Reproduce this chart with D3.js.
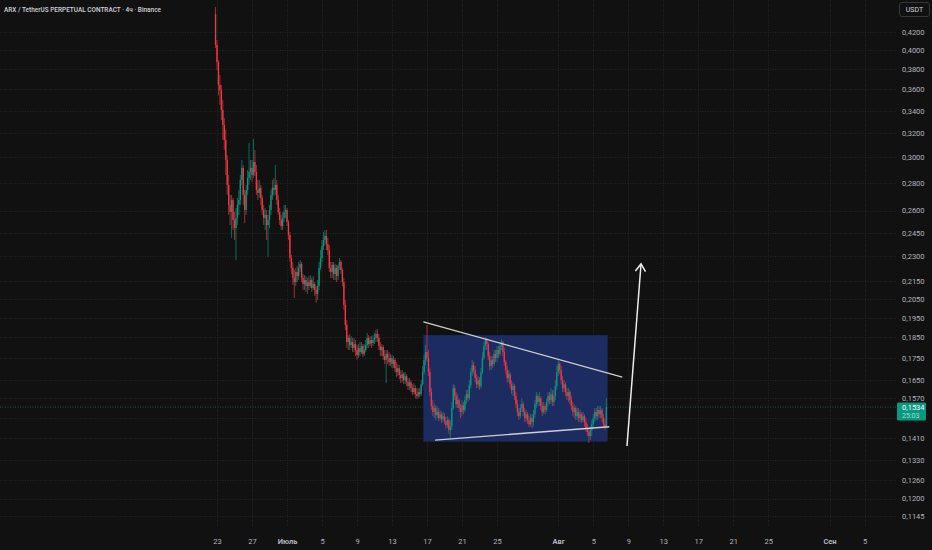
<!DOCTYPE html>
<html>
<head>
<meta charset="utf-8">
<script src="https://cdn.jsdelivr.net/npm/d3@7"></script>
<style>
    html, body { margin: 0; padding: 0; background: #111111; }
    svg { display: block; }
</style>
</head>
<body>
<div id="chart"></div>
<script>
// ---- data ----
const symbolTitle = "ARX / TetherUS PERPETUAL CONTRACT · 4ч · Binance";
const firstCandle = "2025-06-22T20:00:00Z";
const candleHours = 4;
const firstOpen = 0.4408;

const closes = [
    .4056, .3874, .3643, .3594, .3406, .3272,
    .3143, .2979, .2786, .2640, .2590, .2675,
    .2535, .2481, .2549, .2640, .2675, .2823,
    .2916, .2712, .2604, .2748, .2838, .2884,
    .2916, .2861, .2963, .2884, .2748, .2726,
    .2763, .2690, .2604, .2549, .2570, .2501,
    .2535, .2604, .2712, .2763, .2748, .2786,
    .2675, .2590, .2535, .2494, .2549, .2590,
    .2604, .2521, .2435, .2289, .2229, .2170,
    .2146, .2205, .2181, .2229, .2253, .2170,
    .2135, .2158, .2123, .2146, .2123, .2158,
    .2112, .2135, .2101, .2079, .2123, .2229,
    .2289, .2365, .2403, .2429, .2377, .2339,
    .2229, .2205, .2247, .2193, .2229, .2181,
    .2241, .2265, .2217, .2146, .2018, .1912,
    .1827, .1847, .1812, .1827, .1798, .1817,
    .1788, .1764, .1798, .1778, .1807, .1769,
    .1788, .1812, .1847, .1817, .1837, .1822,
    .1837, .1847, .1866, .1847, .1807, .1788,
    .1802, .1759, .1741, .1769, .1750, .1731,
    .1750, .1722, .1741, .1703, .1685, .1703,
    .1672, .1658, .1676, .1649, .1667, .1640,
    .1623, .1640, .1614, .1597, .1614, .1588,
    .1580, .1597, .1588, .1631, .1685, .1741,
    .1778, .1750, .1685, .1597, .1538, .1514,
    .1530, .1501, .1514, .1489, .1505, .1485,
    .1497, .1477, .1461, .1481, .1442, .1457,
    .1530, .1614, .1580, .1546, .1563, .1530,
    .1514, .1542, .1522, .1563, .1588, .1571,
    .1627, .1685, .1717, .1694, .1658, .1631,
    .1649, .1623, .1685, .1750, .1807, .1837,
    .1817, .1759, .1713, .1741, .1722, .1769,
    .1750, .1788, .1769, .1807, .1827, .1778,
    .1731, .1694, .1658, .1676, .1631, .1606,
    .1623, .1580, .1546, .1514, .1497, .1530,
    .1546, .1514, .1489, .1505, .1481, .1465,
    .1489, .1473, .1505, .1546, .1580, .1555,
    .1571, .1538, .1514, .1538, .1522, .1555,
    .1580, .1563, .1588, .1555, .1580, .1623,
    .1685, .1722, .1694, .1649, .1614, .1631,
    .1597, .1580, .1597, .1563, .1538, .1514,
    .1530, .1497, .1514, .1489, .1505, .1481,
    .1497, .1473, .1450, .1434, .1419, .1442,
    .1465, .1489, .1514, .1497, .1522, .1505,
    .1522, .1489, .1465, .1453, .1534
];

const highs = [
    .4492, .4111, .3895, .3742, .3643, .3499,
    .3334, .3228, .3019, .2861, .2712, .2712,
    .2690, .2590, .2618, .2690, .2748, .2861,
    .2979, .2939, .2748, .2786, .2900, .3118,
    .2979, .2979, .3151, .3060, .2939, .2823,
    .2823, .2786, .2712, .2640, .2618, .2604,
    .2570, .2640, .2748, .2823, .2838, .2939,
    .2823, .2712, .2618, .2570, .2590, .2640,
    .2640, .2618, .2535, .2455, .2308, .2265,
    .2217, .2229, .2241, .2265, .2277, .2265,
    .2193, .2187, .2181, .2170, .2181, .2187,
    .2170, .2181, .2146, .2123, .2158, .2265,
    .2339, .2403, .2455, .2468, .2468, .2416,
    .2371, .2265, .2265, .2265, .2253, .2247,
    .2253, .2289, .2277, .2229, .2170, .2045,
    .1938, .1861, .1866, .1856, .1847, .1847,
    .1837, .1812, .1817, .1827, .1827, .1817,
    .1817, .1837, .1871, .1861, .1856, .1856,
    .1861, .1871, .1887, .1892, .1866, .1827,
    .1817, .1812, .1788, .1788, .1788, .1778,
    .1769, .1764, .1759, .1750, .1731, .1722,
    .1717, .1694, .1694, .1685, .1685, .1676,
    .1658, .1658, .1649, .1631, .1636, .1627,
    .1614, .1614, .1614, .1649, .1713, .1764,
    .1812, .1912, .1788, .1703, .1614, .1563,
    .1550, .1542, .1538, .1530, .1522, .1514,
    .1514, .1509, .1493, .1497, .1489, .1481,
    .1555, .1631, .1627, .1597, .1588, .1571,
    .1546, .1563, .1555, .1580, .1606, .1606,
    .1649, .1703, .1741, .1731, .1713, .1676,
    .1667, .1662, .1703, .1778, .1827, .1851,
    .1847, .1827, .1778, .1759, .1759, .1788,
    .1788, .1807, .1807, .1827, .1842, .1832,
    .1798, .1741, .1713, .1694, .1685, .1649,
    .1640, .1631, .1597, .1563, .1530, .1546,
    .1571, .1555, .1530, .1522, .1514, .1497,
    .1505, .1505, .1522, .1563, .1597, .1588,
    .1597, .1580, .1555, .1555, .1546, .1571,
    .1597, .1597, .1614, .1606, .1606, .1649,
    .1713, .1741, .1731, .1713, .1667, .1649,
    .1640, .1614, .1614, .1606, .1580, .1555,
    .1546, .1538, .1530, .1530, .1522, .1514,
    .1514, .1505, .1489, .1465, .1450, .1457,
    .1481, .1505, .1530, .1530, .1538, .1538,
    .1538, .1530, .1505, .1489, .1571
];

const lows = [
    .4023, .3793, .3547, .3453, .3316, .3143,
    .3060, .2861, .2712, .2570, .2501, .2416,
    .2468, .2403, .2277, .2501, .2570, .2640,
    .2786, .2640, .2515, .2570, .2712, .2786,
    .2823, .2808, .2838, .2853, .2712, .2675,
    .2690, .2640, .2570, .2501, .2468, .2403,
    .2296, .2481, .2570, .2675, .2705, .2712,
    .2640, .2570, .2501, .2468, .2468, .2521,
    .2549, .2494, .2403, .2265, .2193, .2129,
    .2056, .2123, .2146, .2158, .2205, .2146,
    .2101, .2101, .2090, .2079, .2101, .2112,
    .2090, .2101, .2068, .2029, .2045, .2101,
    .2217, .2265, .2339, .2365, .2339, .2308,
    .2205, .2170, .2170, .2158, .2158, .2146,
    .2158, .2217, .2193, .2123, .1991, .1887,
    .1798, .1788, .1788, .1798, .1778, .1778,
    .1759, .1741, .1750, .1759, .1769, .1755,
    .1759, .1778, .1798, .1798, .1807, .1798,
    .1807, .1817, .1827, .1827, .1788, .1759,
    .1759, .1741, .1722, .1636, .1722, .1713,
    .1713, .1703, .1703, .1685, .1662, .1667,
    .1653, .1636, .1640, .1631, .1631, .1623,
    .1606, .1606, .1597, .1584, .1588, .1571,
    .1567, .1571, .1575, .1580, .1623, .1672,
    .1717, .1731, .1667, .1580, .1522, .1497,
    .1489, .1481, .1489, .1477, .1481, .1469,
    .1473, .1465, .1446, .1450, .1427, .1408,
    .1442, .1522, .1563, .1530, .1530, .1514,
    .1489, .1497, .1505, .1514, .1546, .1555,
    .1563, .1614, .1667, .1676, .1640, .1614,
    .1614, .1606, .1614, .1676, .1741, .1788,
    .1788, .1741, .1694, .1694, .1703, .1713,
    .1731, .1731, .1750, .1759, .1788, .1759,
    .1713, .1676, .1640, .1640, .1614, .1588,
    .1580, .1563, .1530, .1497, .1481, .1489,
    .1514, .1497, .1473, .1473, .1465, .1453,
    .1457, .1450, .1457, .1489, .1530, .1538,
    .1538, .1522, .1497, .1505, .1505, .1514,
    .1538, .1546, .1546, .1538, .1538, .1563,
    .1606, .1667, .1676, .1631, .1597, .1597,
    .1580, .1563, .1555, .1546, .1522, .1497,
    .1489, .1481, .1481, .1473, .1473, .1469,
    .1473, .1457, .1434, .1419, .1393, .1404,
    .1419, .1450, .1473, .1481, .1481, .1489,
    .1489, .1473, .1450, .1442, .1450
];

// labelled price levels; 0,1490 sits under the last-price badge, so only its grid line shows
const priceTicks = [0.42, 0.40, 0.38, 0.36, 0.34, 0.32, 0.30, 0.28, 0.26, 0.245, 0.23,
    0.215, 0.205, 0.195, 0.185, 0.175, 0.165, 0.157, 0.141, 0.133, 0.126, 0.12, 0.1145];
const gridOnlyTicks = [0.149];
const dateTicks = ["2025-06-23", "2025-06-27", "2025-07-01", "2025-07-05", "2025-07-09", "2025-07-13",
    "2025-07-17", "2025-07-21", "2025-07-25", "2025-08-01", "2025-08-05", "2025-08-09", "2025-08-13",
    "2025-08-17", "2025-08-21", "2025-08-25", "2025-09-01", "2025-09-05"];
const monthLabels = { "2025-07-01": "Июль", "2025-08-01": "Авг", "2025-09-01": "Сен" };
const lastPrice = 0.1534;
const countdown = "25:03";
const currency = "USDT";

// drawings placed on the chart (time, price)
const boxTimes = ["2025-07-16T14:00:00Z", "2025-08-06T15:30:00Z"];
const boxPrices = [0.1861, 0.1398];
const upperLineTimes = ["2025-07-16T14:00:00Z", "2025-08-08T07:40:00Z"];
const upperLinePrices = [0.1929, 0.1662];
const lowerLineTimes = ["2025-07-17T22:00:00Z", "2025-08-06T20:00:00Z"];
const lowerLinePrices = [0.1404, 0.1455];
const arrowTimes = ["2025-08-08T20:30:00Z", "2025-08-10T11:00:00Z"];
const arrowPrices = [0.1382, 0.2253];


class CandleVis {

    constructor(_config) {
        this.config = {
            parentElement: _config.parentElement,
            width: 932,
            height: 550,
            plotRight: 896,
            plotBottom: 527,
            up: '#089981',
            down: '#f23645',
            grid: '#262626',
            text: '#b2b5be',
            font: 'Roboto, "Noto Sans", sans-serif'
        }
        this.initVis();
    }

    initVis() {
        let vis = this;
        const c = vis.config;

        vis.svg = d3.select(c.parentElement).append('svg')
            .attr('width', c.width)
            .attr('height', c.height)
            .style('background', '#111111')
            .style('font-family', c.font);

        vis.x = d3.scaleUtc()
            .domain([new Date("2025-06-23T00:00:00Z"), new Date("2025-09-05T00:00:00Z")])
            .range([217, 864.5]);

        vis.y = d3.scaleLog()
            .domain([0.1145, 0.42])
            .range([516, 32]);

        // build candles, open = previous close
        const t0 = new Date(firstCandle).getTime();
        vis.candles = closes.map((cl, i) => ({
            time: new Date(t0 + i * candleHours * 3600 * 1000),
            open: i === 0 ? firstOpen : closes[i - 1],
            high: highs[i],
            low: lows[i],
            close: cl
        }));

        vis.drawGrid();
        vis.drawDrawings();
        vis.drawCandles();
        vis.drawTrendLines();
        vis.drawAxes();
        vis.drawLabels();
    }

    drawGrid() {
        let vis = this;
        const c = vis.config;
        const g = vis.svg.append('g');

        g.selectAll('.hgrid')
            .data(priceTicks.concat(gridOnlyTicks))
            .join('line')
            .attr('x1', 0)
            .attr('x2', c.plotRight)
            .attr('y1', d => Math.round(vis.y(d)) + 0.5)
            .attr('y2', d => Math.round(vis.y(d)) + 0.5)
            .attr('stroke', c.grid)
            .attr('stroke-dasharray', '1,1.5');

        g.selectAll('.vgrid')
            .data(dateTicks)
            .join('line')
            .attr('x1', d => Math.round(vis.x(new Date(d))) + 0.5)
            .attr('x2', d => Math.round(vis.x(new Date(d))) + 0.5)
            .attr('y1', 0)
            .attr('y2', c.plotBottom)
            .attr('stroke', c.grid)
            .attr('stroke-dasharray', '1,1.5');

        // last price line
        g.append('line')
            .attr('x1', 0)
            .attr('x2', c.plotRight)
            .attr('y1', vis.y(lastPrice))
            .attr('y2', vis.y(lastPrice))
            .attr('stroke', c.up)
            .attr('stroke-opacity', 0.55)
            .attr('stroke-dasharray', '1,1.5');
    }

    drawDrawings() {
        let vis = this;
        const x0 = vis.x(new Date(boxTimes[0])), x1 = vis.x(new Date(boxTimes[1]));
        const y0 = vis.y(boxPrices[0]), y1 = vis.y(boxPrices[1]);
        vis.svg.append('rect')
            .attr('x', x0)
            .attr('y', y0)
            .attr('width', x1 - x0)
            .attr('height', y1 - y0)
            .attr('fill', '#1c2c60');
    }

    drawCandles() {
        let vis = this;
        const c = vis.config;
        const g = vis.svg.append('g');
        const bw = 1.35;

        g.selectAll('.wick')
            .data(vis.candles)
            .join('line')
            .attr('x1', d => vis.x(d.time))
            .attr('x2', d => vis.x(d.time))
            .attr('y1', d => vis.y(d.high))
            .attr('y2', d => vis.y(d.low))
            .attr('stroke', d => d.close >= d.open ? c.up : c.down)
            .attr('stroke-opacity', 0.75)
            .attr('stroke-width', 0.9);

        g.selectAll('.body')
            .data(vis.candles)
            .join('rect')
            .attr('x', d => vis.x(d.time) - bw / 2)
            .attr('y', d => vis.y(Math.max(d.open, d.close)))
            .attr('width', bw)
            .attr('height', d => Math.max(0.8, Math.abs(vis.y(d.open) - vis.y(d.close))))
            .attr('fill', d => d.close >= d.open ? c.up : c.down);
    }

    drawTrendLines() {
        let vis = this;
        const line = d3.line()
            .x(d => vis.x(new Date(d[0])))
            .y(d => vis.y(d[1]));

        const lines = [
            d3.zip(upperLineTimes, upperLinePrices),
            d3.zip(lowerLineTimes, lowerLinePrices)
        ];
        vis.svg.selectAll('.trend')
            .data(lines)
            .join('path')
            .attr('d', line)
            .attr('fill', 'none')
            .attr('stroke', '#cfcfcf')
            .attr('stroke-width', 1.3);

        // arrow pointing up
        const pts = d3.zip(arrowTimes, arrowPrices);
        vis.svg.append('path')
            .attr('d', line(pts))
            .attr('fill', 'none')
            .attr('stroke', '#ececec')
            .attr('stroke-width', 1.5);

        const tx = vis.x(new Date(arrowTimes[1])), ty = vis.y(arrowPrices[1]);
        const bx = vis.x(new Date(arrowTimes[0])), by = vis.y(arrowPrices[0]);
        const ang = Math.atan2(by - ty, bx - tx);
        const headLen = 9, spread = 0.6;
        const head = [
            [tx + headLen * Math.cos(ang - spread), ty + headLen * Math.sin(ang - spread)],
            [tx, ty],
            [tx + headLen * Math.cos(ang + spread), ty + headLen * Math.sin(ang + spread)]
        ];
        vis.svg.append('path')
            .attr('d', d3.line()(head))
            .attr('fill', 'none')
            .attr('stroke', '#ececec')
            .attr('stroke-width', 1.5);
    }

    drawAxes() {
        let vis = this;
        const c = vis.config;
        const fmt = d3.format('.4f');

        const yAxis = d3.axisRight(vis.y)
            .tickValues(priceTicks)
            .tickFormat(d => fmt(d).replace('.', ','))
            .tickSize(0)
            .tickPadding(0);

        vis.svg.append('g')
            .attr('transform', 'translate(902,0)')
            .call(yAxis)
            .call(g => g.select('.domain').remove())
            .selectAll('text')
            .attr('fill', c.text)
            .style('font-family', c.font)
            .style('font-size', '7.5px');

        const xAxis = d3.axisBottom(vis.x)
            .tickValues(dateTicks.map(d => new Date(d + "T00:00:00Z")))
            .tickFormat(d => {
                const key = d3.utcFormat('%Y-%m-%d')(d);
                return monthLabels[key] || d3.utcFormat('%-d')(d);
            })
            .tickSize(0)
            .tickPadding(0);

        vis.svg.append('g')
            .attr('transform', 'translate(0,539)')
            .call(xAxis)
            .call(g => g.select('.domain').remove())
            .selectAll('text')
            .attr('fill', c.text)
            .style('font-family', c.font)
            .style('font-size', '7.5px')
            .style('font-weight', d => monthLabels[d3.utcFormat('%Y-%m-%d')(d)] ? 'bold' : 'normal');
    }

    drawLabels() {
        let vis = this;
        const c = vis.config;

        vis.svg.append('text')
            .attr('x', 4)
            .attr('y', 12)
            .attr('fill', '#d1d4dc')
            .attr('textLength', 157)
            .attr('lengthAdjust', 'spacingAndGlyphs')
            .style('font-size', '7.4px')
            .style('font-weight', 500)
            .text(symbolTitle);

        // currency box
        vis.svg.append('rect')
            .attr('x', 899.5)
            .attr('y', 2.5)
            .attr('width', 30)
            .attr('height', 14)
            .attr('rx', 2.5)
            .attr('fill', '#111111')
            .attr('stroke', '#363636');
        vis.svg.append('text')
            .attr('x', 914.5)
            .attr('y', 12)
            .attr('text-anchor', 'middle')
            .attr('fill', '#d1d4dc')
            .style('font-size', '7px')
            .text(currency);

        // last price badge
        const ly = vis.y(lastPrice);
        vis.svg.append('rect')
            .attr('x', 897)
            .attr('y', ly - 4.5)
            .attr('width', 29)
            .attr('height', 18)
            .attr('rx', 1.5)
            .attr('fill', c.up);
        vis.svg.append('text')
            .attr('x', 902)
            .attr('y', ly + 3)
            .attr('fill', '#ffffff')
            .style('font-size', '7.5px')
            .text(d3.format('.4f')(lastPrice).replace('.', ','));
        vis.svg.append('text')
            .attr('x', 902)
            .attr('y', ly + 11)
            .attr('fill', '#c9efe7')
            .attr('fill-opacity', 0.8)
            .style('font-size', '7px')
            .text(countdown);
    }
}

new CandleVis({ parentElement: '#chart' });
</script>
</body>
</html>
